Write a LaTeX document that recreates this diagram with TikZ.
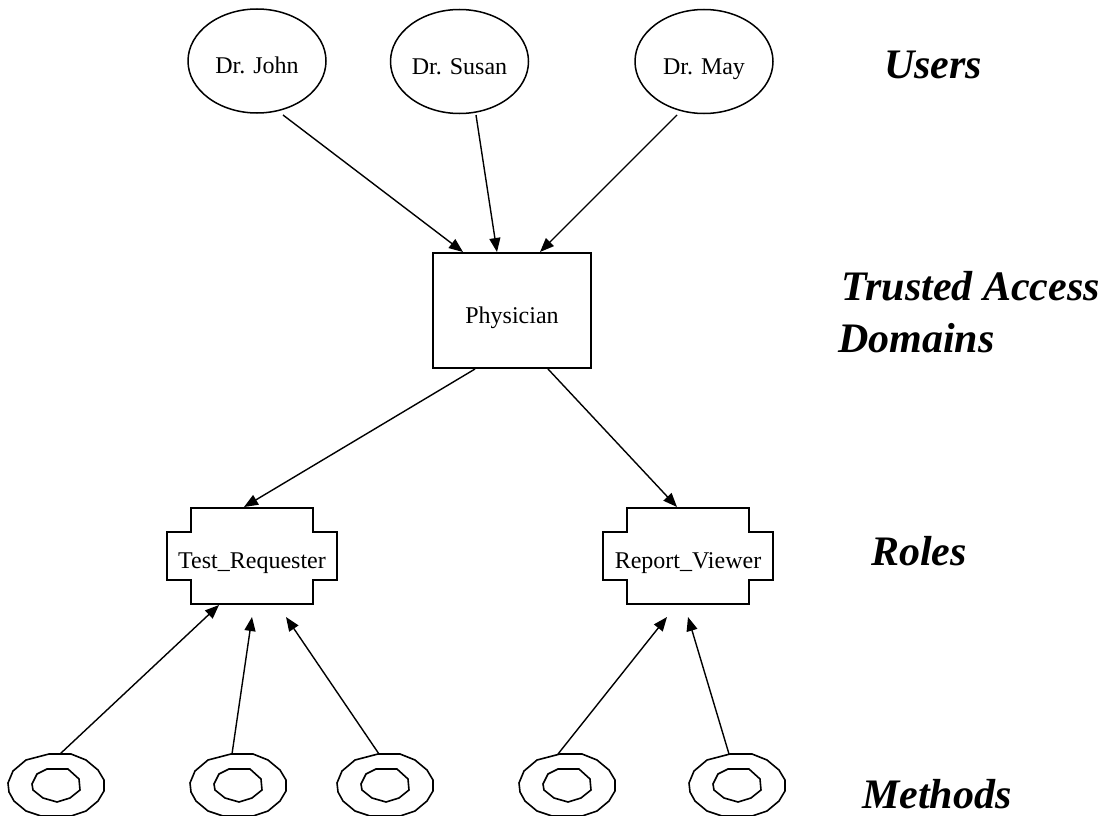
\documentclass[tikz,border=0pt]{standalone}
\usepackage{fontspec}
\setmainfont{Liberation Serif}
\usetikzlibrary{arrows.meta,calc,shapes.geometric}
\tikzset{
  every picture/.style={x=1pt,y=-1pt},
  nodetext/.style={inner sep=0pt,text height=26pt,text depth=0pt,font=\fontsize{24}{28}\selectfont},
  usernode/.style={nodetext,ellipse,draw,line width=1.5pt,minimum width=138pt,minimum height=104pt},
  domainbox/.style={nodetext,rectangle,draw,line width=2pt,minimum width=158pt,minimum height=115pt},
  rolenode/.style={nodetext,rectangle,minimum width=170pt,minimum height=48pt},
  roleline/.style={line width=2pt,line join=miter},
  methodline/.style={line width=1.6pt,line join=miter},
  layerlabel/.style={anchor=base west,inner sep=0pt,font=\fontsize{42}{48}\selectfont\bfseries\itshape},
  conn/.style={line width=1.4pt,-{Triangle[length=14pt,width=11pt]}},
}
\newcommand\drawrolecross[1]{%
  \draw[roleline] ($(#1)+(-61,-48)$) -- ($(#1)+(61,-48)$) -- ($(#1)+(61,-24)$) -- ($(#1)+(85,-24)$)
    -- ($(#1)+(85,24)$) -- ($(#1)+(61,24)$) -- ($(#1)+(61,48)$) -- ($(#1)+(-61,48)$)
    -- ($(#1)+(-61,24)$) -- ($(#1)+(-85,24)$) -- ($(#1)+(-85,-24)$) -- ($(#1)+(-61,-24)$) -- cycle;}
\newcommand\drawmethodring[1]{%
  \draw[methodline] ($(#1)+(-7,-31)$) -- ($(#1)+(15,-31)$) -- ($(#1)+(30,-25)$) -- ($(#1)+(42,-15)$)
    -- ($(#1)+(48,-5)$) -- ($(#1)+(48,6)$) -- ($(#1)+(42,16)$) -- ($(#1)+(30,26)$) -- ($(#1)+(15,31)$)
    -- ($(#1)+(-15,31)$) -- ($(#1)+(-30,26)$) -- ($(#1)+(-42,16)$) -- ($(#1)+(-47,7)$) -- ($(#1)+(-48,-2)$)
    -- ($(#1)+(-43,-14)$) -- ($(#1)+(-30,-25)$) -- cycle;
  \draw[methodline] ($(#1)+(-9,-16)$) -- ($(#1)+(12,-16)$) -- ($(#1)+(23,-6)$) -- ($(#1)+(24,5)$)
    -- ($(#1)+(14,13)$) -- ($(#1)+(1,17)$) -- ($(#1)+(-13,13)$) -- ($(#1)+(-23,5)$) -- ($(#1)+(-24,-1)$)
    -- ($(#1)+(-19,-11)$) -- cycle;}
\begin{document}
\begin{tikzpicture}
\useasboundingbox (0,0) rectangle (1108,816);
% users
\node[usernode] (john) at (257,61) {Dr. John};
\node[usernode] (susan) at (459.5,61.5) {Dr. Susan};
\node[usernode] (may) at (704,61.5) {Dr. May};
% domain
\node[domainbox] (phys) at (512,310.5) {Physician};
% roles
\node[rolenode] (tr) at (252,555.5) {Test\_Requester};
\node[rolenode] (rv) at (688,555.5) {Report\_Viewer};
\drawrolecross{tr}
\drawrolecross{rv}
% methods
\coordinate (m1) at (56,785);
\coordinate (m2) at (238,785);
\coordinate (m3) at (385,785);
\coordinate (m4) at (567,785);
\coordinate (m5) at (737,785);
\drawmethodring{m1}
\drawmethodring{m2}
\drawmethodring{m3}
\drawmethodring{m4}
\drawmethodring{m5}
% connectors
\draw[conn] ($(john)+(26,54)$) -- ($(phys.north)+(-49,0)$);
\draw[conn] ($(susan)+(16.5,53.5)$) -- ($(phys.north)+(-15,0)$);
\draw[conn] ($(may)+(-27,53.5)$) -- ($(phys.north)+(28,0)$);
\draw[conn] ($(phys.south)+(-37,0)$) -- ($(tr)+(-8,-48.5)$);
\draw[conn] ($(phys.south)+(36,0)$) -- ($(rv)+(-11,-48.5)$);
\draw[conn] ($(m1)+(4,-31)$) -- ($(tr)+(-33,49.5)$);
\draw[conn] ($(m2)+(-6,-31)$) -- ($(tr)+(0,61.5)$);
\draw[conn] ($(m3)+(-6,-31)$) -- ($(tr)+(34,61.5)$);
\draw[conn] ($(m4)+(-9,-31)$) -- ($(rv)+(-21,61.5)$);
\draw[conn] ($(m5)+(-8,-31)$) -- ($(rv)+(0,61.5)$);
% layer labels
\node[layerlabel] (lusers) at (884,78) {Users};
\node[layerlabel] (ltad1) at (841,300) {Trusted Access};
\node[layerlabel] (ltad2) at (838,352) {Domains};
\node[layerlabel] (lroles) at (871,565) {Roles};
\node[layerlabel] (lmethods) at (862,808) {Methods};
\end{tikzpicture}
\end{document}
